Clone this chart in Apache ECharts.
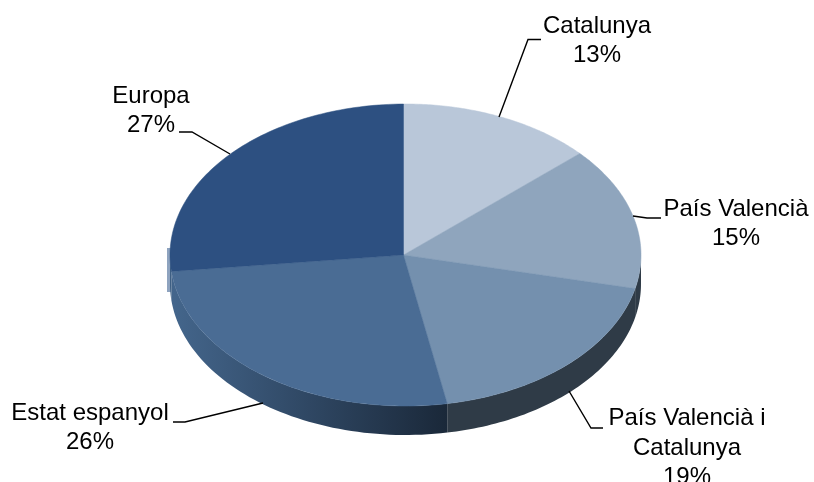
<!DOCTYPE html>
<html>
<head>
<meta charset="utf-8">
<title>Pie</title>
<script src="https://cdn.jsdelivr.net/npm/echarts@6/dist/echarts.min.js"></script>
<style>
    html, body { margin: 0; padding: 0; background: #fff; }
    #main { width: 814px; height: 482px; }
</style>
</head>
<body>
<div id="main"></div>

<script type="text/javascript">
    // clockwise from 12 o'clock, slice shares (labels show them rounded)
    var categories = ['Catalunya', 'País Valencià', 'País Valencià i\nCatalunya', 'Estat espanyol', 'Europa'];
    var values = [13.4, 15.3, 18.6, 26.1, 26.6];

    var topColors = ['#b9c7d9', '#8fa5bd', '#7490ae', '#4a6c94', '#2d5081'];
    var sideColors = ['#2f3b47', '#2f3b47', '#2f3b47', null, '#3e5f83'];

    // label centre and leader line of each slice, in pixels
    var labelPos = [[597, 41], [736, 224], [687, 448], [90, 428], [151, 111]];
    var leaderLines = [
        [[541, 39.5], [528, 39.5], [499, 117]],
        [[661, 218], [647, 218], [633, 216]],
        [[603, 428], [591, 428], [569, 391]],
        [[173, 422], [185, 422], [263, 403]],
        [[179, 132], [192, 132], [230, 154]]
    ];

    var cx = 405.5, cy = 255, rx = 235.5, ry = 151, depth = 29;
    var hub = [403.5, 255];
    // the first slice edge leaves the hub straight up, a little left of the ellipse top
    var startAngle = -0.0085;

    var total = 0;
    for (var i = 0; i < values.length; i++) {
        total += values[i];
    }

    // radians clockwise from the top where slice idx begins
    function startOf(idx) {
        var sum = 0;
        for (var k = 0; k < idx; k++) {
            sum += values[k];
        }
        return startAngle + sum / total * Math.PI * 2;
    }

    function rimPoint(a, dy) {
        return [cx + rx * Math.sin(a), cy - ry * Math.cos(a) + dy];
    }

    // the wall below the front half of the rim
    function sideWall(idx, value) {
        var from = Math.max(startOf(idx), Math.PI / 2);
        var to = Math.min(startOf(idx) + value / total * Math.PI * 2, Math.PI * 1.5);
        if (to <= from) {
            return null;
        }
        var points = [];
        var steps = 60;
        for (var s = 0; s <= steps; s++) {
            points.push(rimPoint(from + (to - from) * s / steps, 0));
        }
        for (var t = steps; t >= 0; t--) {
            points.push(rimPoint(from + (to - from) * t / steps, depth));
        }
        var fill = sideColors[idx];
        if (!fill) {
            fill = new echarts.graphic.LinearGradient(0, 0, 1, 0, [
                {offset: 0, color: '#44668c'},
                {offset: 0.5, color: '#2f4763'},
                {offset: 1, color: '#1a2839'}
            ]);
        }
        return {type: 'polygon', shape: {points: points}, style: {fill: fill}};
    }

    function renderWall(params, api) {
        var wall = sideWall(params.dataIndex, api.value(0));
        return wall || {type: 'group', children: []};
    }

    function renderTop(params, api) {
        var idx = params.dataIndex;
        var from = startOf(idx);
        var sweep = api.value(0) / total * Math.PI * 2;
        var points = [hub];
        var steps = 80;
        for (var s = 0; s <= steps; s++) {
            points.push(rimPoint(from + sweep * s / steps, 0));
        }
        return {
            type: 'polygon',
            shape: {points: points},
            style: {fill: topColors[idx], stroke: topColors[idx], lineWidth: 0.5}
        };
    }

    function renderLabel(params, api) {
        var idx = params.dataIndex;
        return {
            type: 'group',
            children: [
                {
                    type: 'polyline',
                    shape: {points: leaderLines[idx]},
                    style: {stroke: '#000', lineWidth: 1.4, fill: null}
                },
                {
                    type: 'text',
                    x: labelPos[idx][0],
                    y: labelPos[idx][1],
                    style: {
                        text: categories[idx] + '\n' + Math.round(api.value(0)) + '%',
                        font: '24px "Liberation Sans", Arial, sans-serif',
                        lineHeight: 29.5,
                        fill: '#000',
                        align: 'center',
                        verticalAlign: 'middle'
                    }
                }
            ]
        };
    }

    var myChart = echarts.init(document.getElementById('main'));
    var myOption = {
        animation: false,
        // pale sliver left of the pie in the original
        graphic: [
            {type: 'rect', z: 0, shape: {x: 167, y: 248, width: 4, height: 44}, style: {fill: '#8ea3bf'}}
        ],
        series: [
            {type: 'custom', coordinateSystem: 'none', renderItem: renderWall, data: values, silent: true},
            {type: 'custom', coordinateSystem: 'none', renderItem: renderTop, data: values, silent: true},
            {type: 'custom', coordinateSystem: 'none', renderItem: renderLabel, data: values, silent: true}
        ]
    };
    myChart.setOption(myOption);
</script>
</body>
</html>
